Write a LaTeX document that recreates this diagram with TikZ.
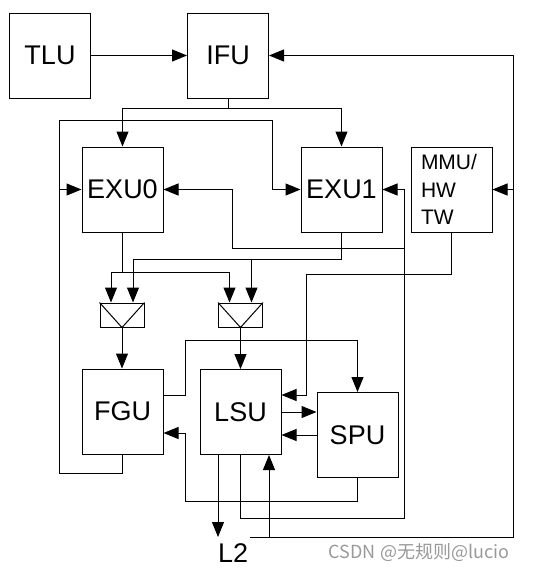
\documentclass[tikz,border=0pt]{standalone}
\usepackage{fontspec}
\setmainfont{Liberation Sans}
\newfontfamily\cjkfont{Noto Sans CJK SC}
\usetikzlibrary{arrows.meta}
\tikzset{
  blk/.style={draw, line width=1pt, minimum width=81pt, minimum height=85pt, inner sep=0pt, font=\fontsize{27}{30}\selectfont},
  muxbox/.style={draw, line width=1pt, minimum width=44pt, minimum height=24pt, inner sep=0pt},
  wire/.style={line width=1pt},
  arr/.style={wire, -{Triangle[length=15pt,width=12pt]}}
}

\begin{document}
\begin{tikzpicture}[x=1pt,y=-1pt]
  \useasboundingbox (0,0) rectangle (552,573);
  \foreach \n/\t/\x/\y in {tlu/TLU/50/55.5, ifu/IFU/228/55.5, exu0/EXU0/122.5/189.5, exu1/EXU1/341.5/189.5, fgu/FGU/122.5/411.5, lsu/LSU/240.5/412, spu/SPU/357.5/435}{
    \node[blk] (\n) at (\x,\y) {\t};
  }
  \node[blk, font=\fontsize{21}{27.5}\selectfont, align=left, text width=61pt, inner xsep=10pt] (mmu) at (451.5,189.5) {MMU/\\HW\\TW};
  \foreach \m/\x in {mux1/122, mux2/240.5}{
    \node[muxbox] (\m) at (\x,315) {};
    \draw[wire] (\m.north west) -- (\m.south) -- (\m.north east);
  }
  \node[anchor=north west, inner xsep=0pt, inner ysep=6pt, font=\fontsize{27}{30}\selectfont] (l2) at (218,537) {L2};
  \node[font=\cjkfont\fontsize{18}{20}\selectfont, text=black!40] (wm) at (419,553) {CSDN @无规则@lucio};

  \coordinate (lbus) at (59,120);
  \coordinate (rbus) at (513,537);
  \coordinate (lbot) at (269,537);
  \coordinate (mbus) at (404,518);
  \coordinate (xbus) at (404,248);

  \draw[arr] (tlu) -- (ifu);
  \draw[arr] (ifu.south) -- ++(0,10) -| (exu0.north);
  \draw[arr] (ifu.south) -- ++(0,10) -| (exu1.north);
  \draw[arr] (fgu.south) -- ++(0,19) -| (lbus) -| ([xshift=-28pt]exu1.west) -- (exu1.west);
  \draw[arr] (exu0.west -| lbus) -- (exu0.west);
  \draw[arr] (lsu.south) |- (mbus) |- (exu1.east);
  \draw[arr] (xbus) -- ++(-172,0) |- (exu0.east);
  \draw[wire] (exu0.south) -- ++(0,40) coordinate (e0);
  \draw[wire] (exu1.south) -- ++(0,27) coordinate (e1);
  \foreach \m in {mux1,mux2}{
    \draw[arr] (e0) -| ([xshift=-11pt]\m.north);
    \draw[arr] (e1) -| ([xshift=11pt]\m.north);
  }
  \draw[arr] (mux1.south) -- (mux1.south |- fgu.north);
  \draw[arr] (mux2.south) -- (lsu.north);
  \draw[arr] (mmu.south) -- ++(0,42) -| ([xshift=25pt,yshift=17pt]lsu.east) -- ([yshift=17pt]lsu.east);
  \draw[arr] ([yshift=16pt]fgu.east) -| ([xshift=22pt,yshift=71.5pt]fgu.east) -| (spu.north);
  \draw[arr] (lsu.east) -- (lsu.east -| spu.west);
  \draw[arr] (spu.west) -- (spu.west -| lsu.east);
  \draw[arr] (spu.south) -- ++(0,23) -| ([xshift=22pt,yshift=-21.5pt]fgu.east) -- ([yshift=-21.5pt]fgu.east);
  \draw[arr] ([xshift=-22.5pt]lsu.south) -- (l2.north west);
  \draw[arr] ([xshift=2pt]l2.north east) -- (rbus) |- (ifu.east);
  \draw[arr] (mmu.east -| rbus) -- (mmu.east);
  \draw[arr] (lbot) -- (lbot |- lsu.south);
\end{tikzpicture}
\end{document}
